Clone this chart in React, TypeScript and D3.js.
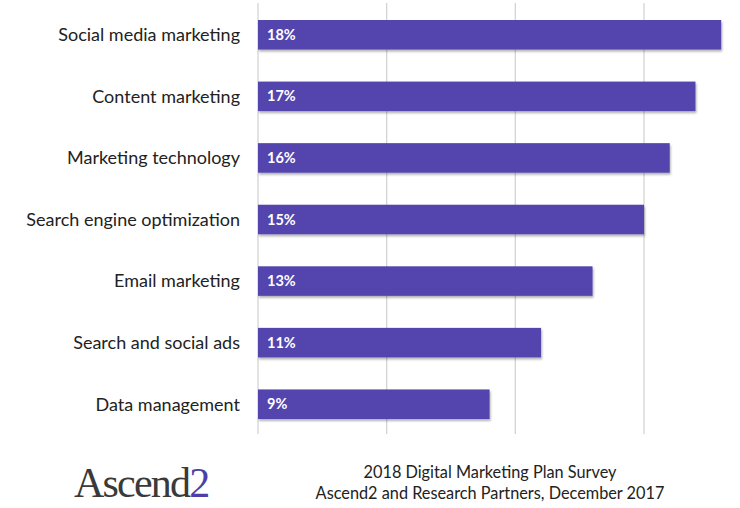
import React from "react";
import * as d3 from "d3";

const categories = [
  "Social media marketing",
  "Content marketing",
  "Marketing technology",
  "Search engine optimization",
  "Email marketing",
  "Search and social ads",
  "Data management",
];
const values = [18, 17, 16, 15, 13, 11, 9];
const gridTicks = [0, 5, 10, 15];
const footerLines = [
  "2018 Digital Marketing Plan Survey",
  "Ascend2 and Research Partners, December 2017",
];

const W = 740;
const H = 508;
const BAR = "#5245ad";
const FONT = "Lato, 'Open Sans', sans-serif";

export default function App() {
  const x = d3.scaleLinear().domain([0, 15]).range([258, 644]);
  const y = d3
    .scaleBand<string>()
    .domain(categories)
    .range([4, 435])
    .paddingInner(0.52)
    .paddingOuter(0.26);

  return (
    <svg
      width={W}
      height={H}
      style={{ position: "absolute", left: 0, top: 0, background: "#fff" }}
    >
      <defs>
        <filter id="sh" x="-5%" y="-20%" width="110%" height="160%">
          <feDropShadow dx="1" dy="2" stdDeviation="1.2" floodColor="#000" floodOpacity="0.3" />
        </filter>
      </defs>
      {gridTicks.map((t) => (
        <line
          key={t}
          x1={x(t)}
          x2={x(t)}
          y1={3}
          y2={434}
          stroke="#d4d4d4"
          strokeWidth={1.3}
        />
      ))}
      {categories.map((c, i) => (
        <g key={c}>
          <rect
            x={x(0)}
            y={y(c)}
            width={x(values[i]) - x(0)}
            height={y.bandwidth()}
            fill={BAR}
            filter="url(#sh)"
          />
          <text
            x={x(0) + 9}
            y={(y(c) as number) + y.bandwidth() / 2}
            dy="0.35em"
            fill="#fff"
            fontFamily={FONT}
            fontWeight="bold"
            fontSize={14.5}
          >
            {values[i]}%
          </text>
          <text
            x={240}
            y={(y(c) as number) + y.bandwidth() / 2}
            dy="0.35em"
            textAnchor="end"
            fill="#222"
            fontFamily={FONT}
            fontSize={18}
          >
            {c}
          </text>
        </g>
      ))}
      <text
        x={74}
        y={497}
        fontFamily="'Liberation Serif', serif"
        fontSize={42}
        letterSpacing={-1.8}
        fill="#3a3a3a"
      >
        Ascend<tspan fill="#4b3fa8">2</tspan>
      </text>
      {footerLines.map((l, i) => (
        <text
          key={i}
          x={490}
          y={478 + i * 21}
          textAnchor="middle"
          fontFamily={FONT}
          fontSize={16.3}
          fill="#222"
        >
          {l}
        </text>
      ))}
    </svg>
  );
}
